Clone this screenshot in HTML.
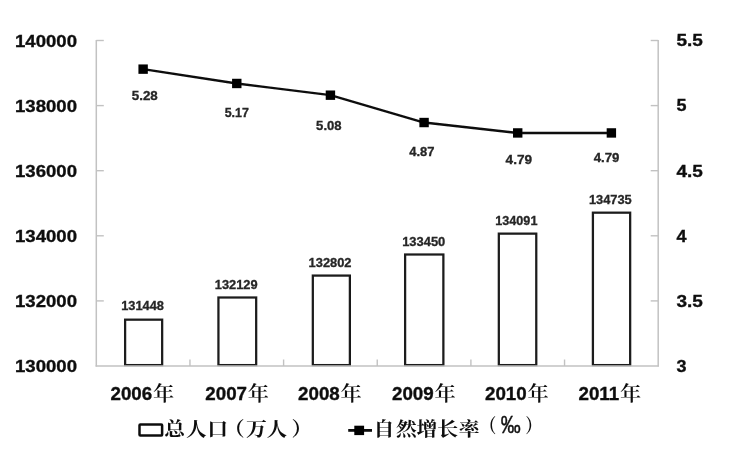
<!DOCTYPE html>
<html lang="zh"><head><meta charset="utf-8"><title>总人口与自然增长率</title>
<style>html,body{margin:0;padding:0;background:#fff}body{width:737px;height:453px;overflow:hidden}svg{display:block}.ax{font-family:"Liberation Sans","Noto Sans CJK SC",sans-serif;font-weight:700;font-size:17.2px;fill:#111;stroke:#111;stroke-width:0.35px}.dl{font-family:"Liberation Sans","Noto Sans CJK SC",sans-serif;font-weight:700;font-size:12px;fill:#262626;stroke:#262626;stroke-width:0.3px}.cj{font-family:"Liberation Serif","Noto Serif CJK SC",serif;fill:#111}</style></head><body>
<svg width="737" height="453" viewBox="0 0 737 453">
<defs><filter id="b" x="-5%" y="-5%" width="110%" height="110%"><feGaussianBlur stdDeviation="0.7"/></filter></defs>
<rect width="737" height="453" fill="#fff"/>
<g filter="url(#b)">
<rect x="125.12" y="319.67" width="37.05" height="45.43" fill="#fff" stroke="#1a1a1a" stroke-width="2.25"/>
<rect x="218.43" y="297.50" width="37.75" height="67.60" fill="#fff" stroke="#1a1a1a" stroke-width="2.25"/>
<rect x="312.82" y="275.59" width="37.05" height="89.51" fill="#fff" stroke="#1a1a1a" stroke-width="2.25"/>
<rect x="405.12" y="254.50" width="38.25" height="110.60" fill="#fff" stroke="#1a1a1a" stroke-width="2.25"/>
<rect x="498.82" y="233.64" width="37.45" height="131.46" fill="#fff" stroke="#1a1a1a" stroke-width="2.25"/>
<rect x="592.92" y="212.68" width="37.25" height="152.42" fill="#fff" stroke="#1a1a1a" stroke-width="2.25"/>
<g stroke="#c2c2c2" stroke-width="1.5" fill="none">
<path d="M96.3 40.0V366.6"/>
<path d="M658.2 40.0V366.6"/>
<path d="M95.6 366.0H658.9000000000001"/>
<path d="M96.3 40.50h7.5" stroke-width="1.4"/>
<path d="M658.2 40.50h-7.5" stroke-width="1.4"/>
<path d="M96.3 105.60h7.5" stroke-width="1.4"/>
<path d="M658.2 105.60h-7.5" stroke-width="1.4"/>
<path d="M96.3 170.70h7.5" stroke-width="1.4"/>
<path d="M658.2 170.70h-7.5" stroke-width="1.4"/>
<path d="M96.3 235.80h7.5" stroke-width="1.4"/>
<path d="M658.2 235.80h-7.5" stroke-width="1.4"/>
<path d="M96.3 300.90h7.5" stroke-width="1.4"/>
<path d="M658.2 300.90h-7.5" stroke-width="1.4"/>
<path d="M189.95 366.0v-6.5" stroke-width="1.4"/>
<path d="M283.60 366.0v-6.5" stroke-width="1.4"/>
<path d="M377.25 366.0v-6.5" stroke-width="1.4"/>
<path d="M470.90 366.0v-6.5" stroke-width="1.4"/>
<path d="M564.55 366.0v-6.5" stroke-width="1.4"/>
</g>
<path d="M143.12 69.14L236.78 83.47L330.43 95.18L424.08 122.53L517.73 132.94L611.38 132.94" fill="none" stroke="#111" stroke-width="2.4" stroke-linejoin="round"/>
<rect x="138.43" y="64.44" width="9.4" height="9.4" fill="#000"/>
<rect x="232.08" y="78.77" width="9.4" height="9.4" fill="#000"/>
<rect x="325.73" y="90.48" width="9.4" height="9.4" fill="#000"/>
<rect x="419.38" y="117.83" width="9.4" height="9.4" fill="#000"/>
<rect x="513.02" y="128.24" width="9.4" height="9.4" fill="#000"/>
<rect x="606.68" y="128.24" width="9.4" height="9.4" fill="#000"/>
<text class="ax" x="15" y="46.60" textLength="62" lengthAdjust="spacingAndGlyphs">140000</text>
<text class="ax" x="15" y="111.70" textLength="62" lengthAdjust="spacingAndGlyphs">138000</text>
<text class="ax" x="15" y="176.80" textLength="62" lengthAdjust="spacingAndGlyphs">136000</text>
<text class="ax" x="15" y="241.90" textLength="62" lengthAdjust="spacingAndGlyphs">134000</text>
<text class="ax" x="15" y="307.00" textLength="62" lengthAdjust="spacingAndGlyphs">132000</text>
<text class="ax" x="15" y="372.10" textLength="62" lengthAdjust="spacingAndGlyphs">130000</text>
<text class="ax" x="676.5" y="46.30" textLength="26.4" lengthAdjust="spacingAndGlyphs">5.5</text>
<text class="ax" x="676.5" y="111.40" textLength="10" lengthAdjust="spacingAndGlyphs">5</text>
<text class="ax" x="676.5" y="176.50" textLength="26.4" lengthAdjust="spacingAndGlyphs">4.5</text>
<text class="ax" x="676.5" y="241.60" textLength="10" lengthAdjust="spacingAndGlyphs">4</text>
<text class="ax" x="676.5" y="306.70" textLength="26.4" lengthAdjust="spacingAndGlyphs">3.5</text>
<text class="ax" x="676.5" y="371.80" textLength="10" lengthAdjust="spacingAndGlyphs">3</text>
<text class="dl" x="121.2" y="310.2" textLength="42.8" lengthAdjust="spacingAndGlyphs">131448</text>
<text class="dl" x="214.8" y="288.7" textLength="42.8" lengthAdjust="spacingAndGlyphs">132129</text>
<text class="dl" x="308.6" y="267.0" textLength="42.9" lengthAdjust="spacingAndGlyphs">132802</text>
<text class="dl" x="402.2" y="245.6" textLength="43.1" lengthAdjust="spacingAndGlyphs">133450</text>
<text class="dl" x="495.3" y="225.1" textLength="42.1" lengthAdjust="spacingAndGlyphs">134091</text>
<text class="dl" x="588.9" y="204.3" textLength="42.8" lengthAdjust="spacingAndGlyphs">134735</text>
<text class="dl" x="131.8" y="100.2" textLength="26.0" lengthAdjust="spacingAndGlyphs">5.28</text>
<text class="dl" x="224.7" y="116.7" textLength="24.2" lengthAdjust="spacingAndGlyphs">5.17</text>
<text class="dl" x="316.1" y="130.1" textLength="25.5" lengthAdjust="spacingAndGlyphs">5.08</text>
<text class="dl" x="409.2" y="156.4" textLength="25.2" lengthAdjust="spacingAndGlyphs">4.87</text>
<text class="dl" x="505.6" y="163.7" textLength="26.5" lengthAdjust="spacingAndGlyphs">4.79</text>
<text class="dl" x="593.7" y="161.7" textLength="25.7" lengthAdjust="spacingAndGlyphs">4.79</text>
<text class="ax" style="font-size:17.7px" transform="translate(110.5 400.3) scale(1.06,1)">2006<tspan class="cj" dx="0.75" dy="0.9" font-size="20" font-weight="600" stroke="none">年</tspan></text>
<text class="ax" style="font-size:17.7px" transform="translate(205.3 400.3) scale(1.06,1)">2007<tspan class="cj" dx="0.75" dy="0.9" font-size="20" font-weight="600" stroke="none">年</tspan></text>
<text class="ax" style="font-size:17.7px" transform="translate(298.1 400.3) scale(1.06,1)">2008<tspan class="cj" dx="0.75" dy="0.9" font-size="20" font-weight="600" stroke="none">年</tspan></text>
<text class="ax" style="font-size:17.7px" transform="translate(392.0 400.3) scale(1.06,1)">2009<tspan class="cj" dx="0.75" dy="0.9" font-size="20" font-weight="600" stroke="none">年</tspan></text>
<text class="ax" style="font-size:17.7px" transform="translate(485.0 400.3) scale(1.06,1)">2010<tspan class="cj" dx="0.75" dy="0.9" font-size="20" font-weight="600" stroke="none">年</tspan></text>
<text class="ax" style="font-size:17.7px" transform="translate(578.5 400.3) scale(1.06,1)">2011<tspan class="cj" dx="0.75" dy="0.9" font-size="20" font-weight="600" stroke="none">年</tspan></text>
<rect x="139.5" y="424.5" width="22.6" height="11.1" rx="0.8" fill="#fff" stroke="#111" stroke-width="2.5"/>
<text class="cj" transform="translate(0 436.2) scale(1.06,1)" text-anchor="middle" font-size="19.7" font-weight="700" x="164.91 185.38 205.38 220.85 241.98 261.32 284.81">总人口（万人）</text>
<path d="M348.2 430.4H372" stroke="#111" stroke-width="2.8"/>
<rect x="354.3" y="425.7" width="9.8" height="9.4" fill="#000"/>
<text class="cj" transform="translate(0 436.4) scale(1.06,1)" text-anchor="middle" font-size="19.7" font-weight="700" x="362.26 383.40 402.83 422.26 442.74">自然增长率</text>
<text class="cj" transform="translate(0 433) scale(0.83,1)" text-anchor="middle" font-size="19.2" font-weight="700" x="588.07 615.30 642.65">（<tspan font-family="&quot;Liberation Sans&quot;,sans-serif" font-size="24" font-weight="400" dy="-0.4" stroke="#111" stroke-width="0.45">‰</tspan><tspan dy="0.4">）</tspan></text>
</g></svg></body></html>
